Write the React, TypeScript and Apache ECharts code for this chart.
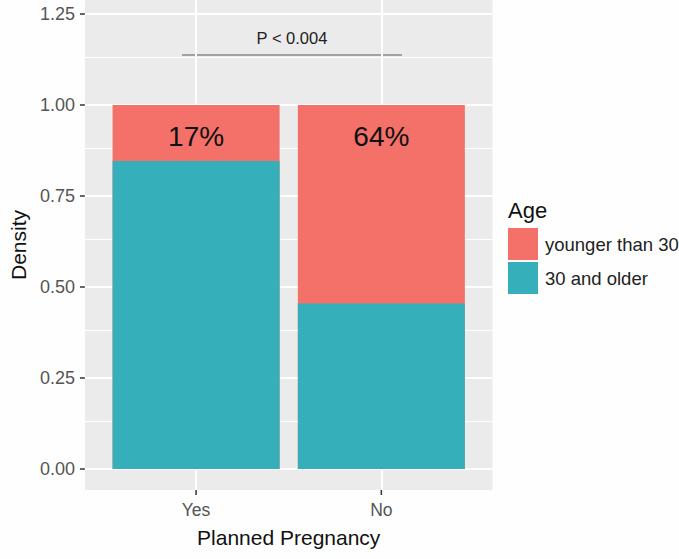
import React, { useEffect, useRef } from "react";
import * as echarts from "echarts";

const categories = ["Yes", "No"];
const olderShare = [0.846, 0.455];
const youngerShare = [0.154, 0.545];
const percentLabels = ["17%", "64%"];
const yTicks = [0, 0.25, 0.5, 0.75, 1, 1.25];
const yMinor = [0.125, 0.375, 0.625, 0.875, 1.125];
const seriesNames = ["younger than 30", "30 and older"];
const legendTitle = "Age";
const pValueText = "P < 0.004";

export default function App() {
  const ref = useRef<HTMLDivElement>(null);
  useEffect(() => {
    const chart = echarts.init(ref.current!, null, { renderer: "svg" });
    const xPos = categories.map((_, i) => i + 1);
    const font = "'Liberation Sans', Arial, sans-serif";
    const red = "#F4716A";
    const teal = "#35B0BA";
    const gridData = [
      ...yTicks.map((v) => ({ yAxis: v, lineStyle: { width: 2 } })),
      ...yMinor.map((v) => ({ yAxis: v, lineStyle: { width: 1 } })),
      ...xPos.map((v) => ({ xAxis: v, lineStyle: { width: 2 } })),
    ];
    // cumulative tops of the stacked bars (older at the bottom, younger on top)
    const youngerTop = olderShare.map((v, i) => v + youngerShare[i]);
    const baseGraphic: any[] = [
      {
        id: "legendTitle",
        type: "text",
        left: 508,
        top: 199,
        style: { text: legendTitle, fontSize: 22, fill: "#111", fontFamily: font },
      },
      {
        id: "pText",
        type: "text",
        x: 292,
        y: 38,
        style: {
          text: pValueText,
          fontSize: 16.5,
          fill: "#222",
          fontFamily: font,
          align: "center",
          verticalAlign: "middle",
        },
      },
      {
        id: "pLine",
        type: "line",
        shape: { x1: 182, y1: 55, x2: 402, y2: 55 },
        style: { stroke: "#8a8a8a", lineWidth: 1.3 },
      },
    ];
    chart.setOption({
      animation: false,
      backgroundColor: "#fefefe",
      textStyle: { fontFamily: font },
      grid: {
        left: 83.5,
        right: 186.5,
        top: 0,
        bottom: 69,
        show: true,
        backgroundColor: "#EBEBEB",
        borderWidth: 0,
        containLabel: false,
      },
      xAxis: {
        type: "value",
        min: 0.4,
        max: 2.6,
        name: "Planned Pregnancy",
        nameLocation: "middle",
        nameGap: 37,
        nameTextStyle: { fontSize: 21, color: "#111", fontFamily: font },
        axisLine: { show: false },
        splitLine: { show: false },
        axisTick: { show: false },
        axisLabel: {
          customValues: xPos,
          formatter: (v: number) => categories[Math.round(v) - 1] ?? "",
          fontSize: 17.5,
          color: "#555",
          margin: 11,
          fontFamily: font,
        },
      },
      yAxis: {
        type: "value",
        min: -0.0577,
        max: 1.2885,
        name: "Density",
        nameLocation: "middle",
        nameGap: 55,
        nameTextStyle: { fontSize: 21, color: "#111", fontFamily: font },
        axisLine: { show: false },
        splitLine: { show: false },
        axisTick: { show: true, customValues: yTicks, length: 5, lineStyle: { color: "#333", width: 1.5 } },
        axisLabel: {
          customValues: yTicks,
          formatter: (v: number) => v.toFixed(2),
          fontSize: 18,
          color: "#555",
          margin: 10,
          fontFamily: font,
        },
      },
      legend: {
        orient: "vertical",
        left: 508,
        top: 228,
        padding: 0,
        itemWidth: 30,
        itemHeight: 32,
        itemGap: 2,
        icon: "rect",
        selectedMode: false,
        data: seriesNames,
        textStyle: { fontSize: 18.5, color: "#222", fontFamily: font, padding: [0, 0, 0, 2] },
      },
      graphic: baseGraphic,
      series: [
        {
          name: seriesNames[0],
          type: "bar",
          barWidth: 167,
          barGap: "-100%",
          z: 3,
          itemStyle: { color: red },
          emphasis: { disabled: true },
          label: {
            show: true,
            position: "insideTop",
            distance: 17,
            formatter: (p: any) => percentLabels[p.dataIndex],
            fontSize: 28,
            color: "#111",
            fontFamily: font,
          },
          data: xPos.map((x, i) => [x, youngerTop[i]]),
          markLine: {
            silent: true,
            z: 1,
            symbol: ["none", "none"],
            label: { show: false },
            emphasis: { disabled: true },
            lineStyle: { color: "#ffffff", type: "solid" },
            data: gridData,
          },
        },
        {
          name: seriesNames[1],
          type: "bar",
          barWidth: 167,
          barGap: "-100%",
          z: 4,
          itemStyle: { color: teal },
          emphasis: { disabled: true },
          data: xPos.map((x, i) => [x, olderShare[i]]),
        },
      ],
    });
    // x-axis tick marks placed through the axis scale
    const bottomY = chart.convertToPixel({ yAxisIndex: 0 }, -0.0577) as number;
    const tickGraphic = xPos.map((x, i) => {
      const px = chart.convertToPixel({ xAxisIndex: 0 }, x) as number;
      return {
        id: "xtick" + i,
        type: "line",
        shape: { x1: px, y1: bottomY, x2: px, y2: bottomY + 5 },
        style: { stroke: "#333", lineWidth: 1.5 },
      };
    });
    chart.setOption({ graphic: [...baseGraphic, ...tickGraphic] });
    return () => chart.dispose();
  }, []);
  return (
    <div
      ref={ref}
      style={{ position: "fixed", left: 0, top: 0, width: 679, height: 559 }}
    />
  );
}
